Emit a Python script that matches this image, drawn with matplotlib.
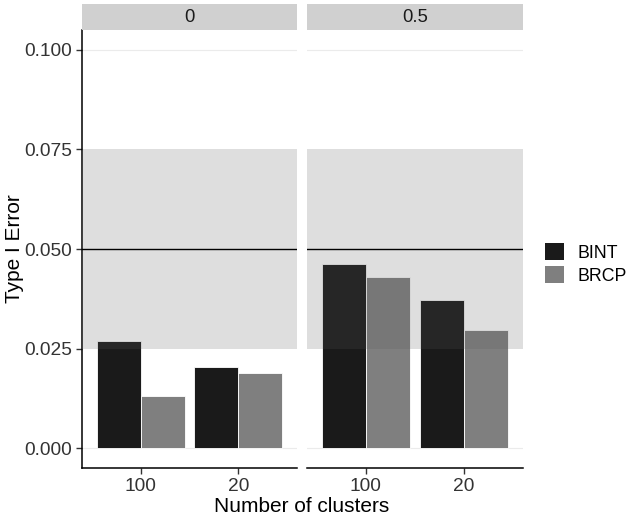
import matplotlib
matplotlib.use("Agg")
import matplotlib.pyplot as plt
from matplotlib.patches import Patch, Rectangle
import numpy as np

plt.rcParams["font.family"] = ["Liberation Sans", "DejaVu Sans"]

# data
panels = ["0", "0.5"]
clusters = ["100", "20"]
methods = ["BINT", "BRCP"]
colors = ["#1a1a1a", "#7f7f7f"]
# values[panel][method] -> per cluster
values = {
    "0": {"BINT": [0.0269, 0.0204], "BRCP": [0.0132, 0.0188]},
    "0.5": {"BINT": [0.0462, 0.0371], "BRCP": [0.0429, 0.0296]},
}
yticks = [0.000, 0.025, 0.050, 0.075, 0.100]

W, H = 630, 519
fig = plt.figure(figsize=(W / 100, H / 100), dpi=100)

def fx(px):
    return px / W

def fy(py):
    return 1 - py / H

panel_x = [(82, 297), (307, 523)]
top, bottom = 30, 468

for i, p in enumerate(panels):
    x0, x1 = panel_x[i]
    ax = fig.add_axes([fx(x0), fy(bottom), fx(x1 - x0), fy(top) - fy(bottom)])
    x = np.arange(1, len(clusters) + 1)
    bw = 0.45
    for j, m in enumerate(methods):
        ax.bar(x + (j - 0.5) * bw, values[p][m], width=bw, color=colors[j],
               edgecolor="white", linewidth=0.6, zorder=2)
    ax.axhspan(0.025, 0.075, color="#5a5a5a", alpha=0.2, linewidth=0, zorder=3)
    ax.axhline(0.05, color="black", linewidth=1.0, zorder=4)
    for yt in [0.0, 0.1]:
        ax.axhline(yt, color="#ebebeb", linewidth=0.8, zorder=1)
    ax.set_xlim(0.4, 2.6)
    ax.set_ylim(-0.005, 0.105)
    ax.set_xticks(x)
    ax.set_xticklabels(clusters, fontsize=13.8, color="#333333")
    ax.set_yticks(yticks)
    ax.set_yticklabels(["%.3f" % v for v in yticks], fontsize=13.8, color="#333333")
    ax.tick_params(length=4, width=1.0, color="#333333", pad=3)
    for s in ["top", "right"]:
        ax.spines[s].set_visible(False)
    ax.spines["bottom"].set_linewidth(1.1)
    ax.spines["left"].set_linewidth(1.1)
    if i > 0:
        ax.spines["left"].set_visible(False)
        ax.tick_params(axis="y", left=False, labelleft=False)
    # strip
    fig.patches.append(Rectangle((fx(x0), fy(top)), fx(x1 - x0), fy(4) - fy(top),
                                 transform=fig.transFigure, facecolor="#d0d0d0",
                                 edgecolor="none"))
    fig.text(fx((x0 + x1) / 2), fy(17), p, ha="center", va="center",
             fontsize=13.3, color="#1a1a1a")

fig.text(fx(302), fy(507), "Number of clusters", ha="center", va="center", fontsize=15)
fig.text(fx(15), fy(249), "Type I Error", ha="center", va="center", rotation=90, fontsize=15)

handles = [Patch(facecolor=c, edgecolor="none") for c in colors]
fig.legend(handles, methods, loc="center left", bbox_to_anchor=(fx(538), fy(264)),
           frameon=False, fontsize=12.8, handlelength=1.05, handleheight=1.05,
           handletextpad=0.75, labelspacing=0.25, borderaxespad=0)

fig.savefig("out.png", dpi=100)
